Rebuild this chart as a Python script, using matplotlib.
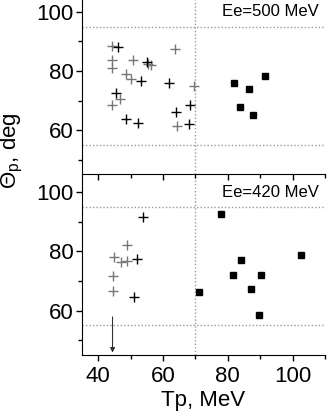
import numpy as np
import matplotlib
matplotlib.use('Agg')
import matplotlib.pyplot as plt
from matplotlib.ticker import MultipleLocator

plt.rcParams['font.family'] = ['Liberation Sans', 'DejaVu Sans']
plt.rcParams['mathtext.fontset'] = 'custom'
plt.rcParams['mathtext.rm'] = 'Liberation Sans'
plt.rcParams['mathtext.it'] = 'Liberation Sans:italic'

# Ee = 500 MeV panel
top_gray_x = [44.3, 63.8, 44.3, 50.8, 55.5, 56.3, 44.3, 48.6, 50.2, 69.6, 46.6, 44.3, 64.3]
top_gray_y = [88.4, 87.6, 83.6, 83.6, 82.5, 81.9, 81.1, 79.1, 77.2, 74.9, 70.5, 68.6, 61.5]
top_black_x = [46.2, 55.0, 53.1, 61.7, 45.6, 68.3, 64.0, 48.6, 52.2, 67.9]
top_black_y = [88.1, 83.1, 76.6, 76.1, 72.7, 68.6, 66.2, 63.7, 62.3, 62.0]
top_sq_x = [91.5, 81.8, 86.4, 83.8, 87.8]
top_sq_y = [78.2, 76.0, 73.8, 67.9, 65.2]

# Ee = 420 MeV panel
bot_gray_x = [48.8, 45.0, 47.1, 49.0, 44.4, 44.4]
bot_gray_y = [82.3, 78.3, 76.3, 76.8, 71.7, 66.8]
bot_black_x = [53.9, 52.1, 51.0]
bot_black_y = [91.7, 77.4, 64.7]
bot_sq_x = [77.8, 102.7, 84.2, 81.6, 90.2, 87.2, 71.0, 89.6]
bot_sq_y = [92.8, 78.9, 77.1, 71.9, 72.2, 67.3, 66.3, 58.4]

arrow_x = 44.4
arrow_y = (57.9, 45.8)

cut_theta = [55, 95]
cut_tp = 70

fig = plt.figure(figsize=(3.27, 4.15), dpi=100)
ax2 = fig.add_axes([0.251, 0.1446, 0.743, 0.4361])
ax1 = fig.add_axes([0.251, 0.5807, 0.743, 0.4193])
ax1.patch.set_visible(False)
ax2.patch.set_visible(False)

panels = [
    (ax1, top_gray_x, top_gray_y, top_black_x, top_black_y, top_sq_x, top_sq_y, 'Ee=500 MeV', (45.2, 104.0)),
    (ax2, bot_gray_x, bot_gray_y, bot_black_x, bot_black_y, bot_sq_x, bot_sq_y, 'Ee=420 MeV', (45.0, 106.2)),
]

for ax, gx, gy, bx, by, sx, sy, label, ylim in panels:
    for c in cut_theta:
        ax.axhline(c, color='#999999', ls=(0, (1, 1.5)), lw=1.0, zorder=1)
    ax.axvline(cut_tp, color='#999999', ls=(0, (1, 1.5)), lw=1.0, zorder=1)
    ax.plot(gx, gy, '+', color='#777777', ms=7, mew=1.0, zorder=3)
    ax.plot(bx, by, '+', color='black', ms=7, mew=1.0, zorder=3)
    ax.plot(sx, sy, 's', color='black', ms=3.8, zorder=3)
    ax.set_xlim(35, 110)
    ax.set_ylim(*ylim)
    ax.xaxis.set_major_locator(MultipleLocator(20))
    ax.xaxis.set_minor_locator(MultipleLocator(10))
    ax.yaxis.set_major_locator(MultipleLocator(20))
    ax.yaxis.set_minor_locator(MultipleLocator(10))
    ax.tick_params(which='major', length=4, width=1, labelsize=16, pad=2)
    ax.tick_params(which='minor', length=3, width=1)
    ax.tick_params(axis='x', pad=4)
    for s in ('top', 'right'):
        ax.spines[s].set_visible(False)
    ax.text(0.975, 100, label, transform=ax.get_yaxis_transform(),
            ha='right', va='center', fontsize=12)

ax1.tick_params(axis='x', labelbottom=False)
ax2.set_xlabel('Tp, MeV', fontsize=16, labelpad=2)

ax2.annotate('', xy=(arrow_x, arrow_y[1]), xytext=(arrow_x, arrow_y[0]),
             arrowprops=dict(arrowstyle='-|>', color='#333333', lw=0.8,
                             mutation_scale=7, shrinkA=0, shrinkB=0))

fig.text(0.037, 0.638, r'$\Theta_\mathrm{p}$, deg', rotation=90,
         ha='center', va='center', fontsize=16)

fig.savefig('out.png', dpi=100)
